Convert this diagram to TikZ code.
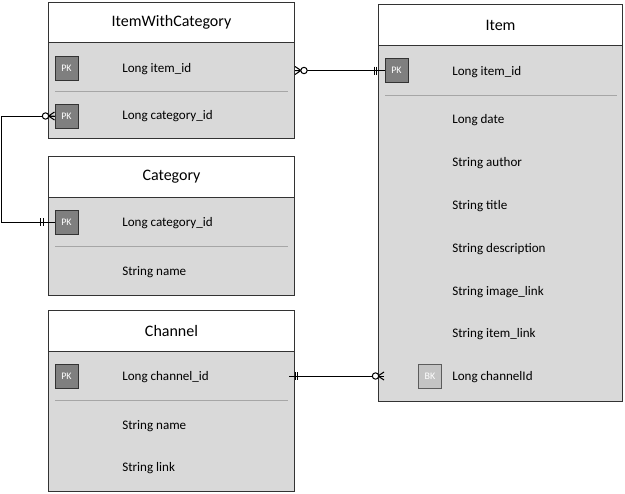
\documentclass[tikz,border=0pt]{standalone}
\usepackage{fontspec}
\setmainfont{Carlito}
\usetikzlibrary{calc}
\definecolor{bodygray}{HTML}{D9D9D9}
\definecolor{pkgray}{HTML}{7F7F7F}
\definecolor{bkgray}{HTML}{C4C4C4}
\definecolor{sepgray}{HTML}{A6A6A6}
\definecolor{edgec}{HTML}{333333}
\begin{document}
\begin{tikzpicture}[x=0.75pt,y=-0.75pt,
  hdr/.style={draw=edgec, fill=white, line width=0.75pt, anchor=north west, inner sep=0pt, font=\fontsize{12}{14}\selectfont},
  bodybox/.style={draw=edgec, fill=bodygray, line width=0.75pt, anchor=north west, inner sep=0pt},
  pkbadge/.style={draw=edgec, fill=pkgray, text=white, line width=0.75pt, minimum width=17.25pt, minimum height=18pt, inner sep=0pt, font=\fontsize{7.5}{8}\selectfont},
  bkbadge/.style={draw=edgec!80, fill=bkgray, text=white, line width=0.75pt, minimum width=17.25pt, minimum height=18pt, inner sep=0pt, font=\fontsize{7.5}{8}\selectfont},
  field/.style={anchor=west, inner sep=0pt, font=\fontsize{9.8}{11}\selectfont},
  sep/.style={draw=sepgray, line width=0.5pt},
  conn/.style={draw=black, line width=0.75pt},
  tick/.style={draw=black, line width=0.75pt},
  ring/.style={draw=black, fill=white, line width=0.75pt}
]
\useasboundingbox (0,0) rectangle (625,493);

% ItemWithCategory
\node[bodybox, minimum width=184.5pt, minimum height=72pt] (iwcB) at (48,42) {};
\node[hdr, minimum width=184.5pt, minimum height=30pt] (iwcH) at (48,2) {ItemWithCategory};
\node[pkbadge] (iwcPK1) at (66.5,68) {PK};
\node[field] (iwcF1) at (122,69) {Long item\_id};
\draw[sep] (55,91) -- (288,91);
\node[pkbadge] (iwcPK2) at (66.5,116) {PK};
\node[field] (iwcF2) at (122,116) {Long category\_id};

% Category
\node[bodybox, minimum width=184.5pt, minimum height=73.5pt] (catB) at (48,197) {};
\node[hdr, minimum width=184.5pt, minimum height=30.75pt] (catH) at (48,156) {Category};
\node[pkbadge] (catPK) at (66.5,222) {PK};
\node[field] (catF1) at (122,223) {Long category\_id};
\draw[sep] (55,246) -- (288,246);
\node[field] (catF2) at (122,272) {String name};

% Channel
\node[bodybox, minimum width=184.5pt, minimum height=105pt] (chB) at (48,351) {};
\node[hdr, minimum width=184.5pt, minimum height=30.75pt] (chH) at (48,310) {Channel};
\node[pkbadge] (chPK) at (66.5,376) {PK};
\node[field] (chF1) at (122,377) {Long channel\_id};
\draw[sep] (55,400) -- (288,400);
\node[field] (chF2) at (122,426) {String name};
\node[field] (chF3) at (122,468) {String link};

% Item
\node[bodybox, minimum width=183pt, minimum height=267pt] (itB) at (378,45) {};
\node[hdr, minimum width=183pt, minimum height=30.75pt] (itH) at (378,4) {Item};
\node[pkbadge] (itPK) at (396.5,70.5) {PK};
\node[field] (itF1) at (452,72) {Long item\_id};
\draw[sep] (385,95) -- (617,95);
\node[field] (itF2) at (452,120) {Long date};
\node[field] (itF3) at (452,163) {String author};
\node[field] (itF4) at (452,206) {String title};
\node[field] (itF5) at (452,249) {String description};
\node[field] (itF6) at (452,292) {String image\_link};
\node[field] (itF7) at (452,334) {String item\_link};
\node[bkbadge] (itBK) at (430,376) {BK};
\node[field] (itF8) at (452,377) {Long channelId};

% Connector 1: ItemWithCategory.item_id (0..*) -- Item.item_id (1)
\coordinate (c1a) at (iwcB.east |- itPK.center);
\coordinate (c1b) at (itB.west |- itPK.center);
\draw[conn] (c1a) -- (itPK.west);
\draw[tick] ($(c1a)+(6,0)$) -- ($(c1a)+(0,-4)$) ($(c1a)+(6,0)$) -- ($(c1a)+(0,4)$) ($(c1a)+(6,0)$) -- (c1a);
\draw[ring] ($(c1a)+(9,0)$) circle (2.4pt);
\draw[tick] ($(c1b)+(-4,-4)$) -- ($(c1b)+(-4,4)$) ($(c1b)+(-1.5,-4)$) -- ($(c1b)+(-1.5,4)$);

% Connector 2: ItemWithCategory.category_id (0..*) -- Category.category_id (1)
\coordinate (c2bend) at ($(iwcPK2.west)+(-53,0)$);
\draw[conn] (iwcPK2.west) -- (c2bend) |- (catPK.west);
\coordinate (c2a) at (iwcPK2.west);
\draw[tick] ($(c2a)+(-6,0)$) -- ($(c2a)+(0,-4)$) ($(c2a)+(-6,0)$) -- ($(c2a)+(0,4)$) ($(c2a)+(-6,0)$) -- (c2a);
\draw[ring] ($(c2a)+(-9,0)$) circle (2.4pt);
\coordinate (c2b) at (catPK.west);
\draw[tick] ($(c2b)+(-14,-4)$) -- ($(c2b)+(-14,4)$) ($(c2b)+(-11.5,-4)$) -- ($(c2b)+(-11.5,4)$);

% Connector 3: Channel.channel_id (1) -- Item.channelId (0..*)
\coordinate (c3a) at ($(chB.east |- chPK.center)+(-6,0)$);
\coordinate (c3e) at (chB.east |- chPK.center);
\coordinate (c3b) at ($(itB.west |- chPK.center)+(6,0)$);
\draw[conn] (c3a) -- (c3b);
\draw[tick] ($(c3e)+(0,-4)$) -- ($(c3e)+(0,4)$) ($(c3e)+(2.5,-4)$) -- ($(c3e)+(2.5,4)$);
\draw[tick] ($(c3b)+(-6,0)$) -- ($(c3b)+(0,-4)$) ($(c3b)+(-6,0)$) -- ($(c3b)+(0,4)$);
\draw[ring] ($(c3b)+(-8.5,0)$) circle (2.4pt);
\end{tikzpicture}
\end{document}
